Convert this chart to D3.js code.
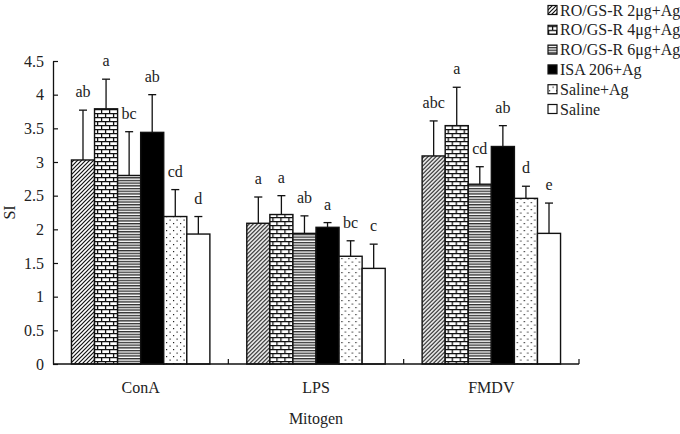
<!DOCTYPE html>
<html>
<head>
<meta charset="utf-8">
<script src="https://cdn.jsdelivr.net/npm/d3@7"></script>
<style>
  body { margin: 0; background: #fff; }
  svg text { font-family: "Liberation Serif", "Times New Roman", serif; fill: #222; }
</style>
</head>
<body>
<svg id="chart" width="680" height="434"></svg>
<script>
// categories and series
const mitogens = ['ConA', 'LPS', 'FMDV'];
const groups = ['RO/GS-R 2μg+Ag', 'RO/GS-R 4μg+Ag', 'RO/GS-R 6μg+Ag', 'ISA 206+Ag', 'Saline+Ag', 'Saline'];
// mean SI per group, one array per mitogen
const conA = [3.03, 3.79, 2.80, 3.44, 2.19, 1.93];
const lps = [2.09, 2.22, 1.94, 2.03, 1.60, 1.42];
const fmdv = [3.09, 3.54, 2.67, 3.23, 2.46, 1.94];
// upper end of the error bar
const conAErr = [3.77, 4.23, 3.45, 4.00, 2.59, 2.19];
const lpsErr = [2.48, 2.50, 2.20, 2.10, 1.83, 1.78];
const fmdvErr = [3.61, 4.11, 2.93, 3.54, 2.64, 2.39];
// significance letters
const conALetters = ['ab', 'a', 'bc', 'ab', 'cd', 'd'];
const lpsLetters = ['a', 'a', 'ab', 'a', 'bc', 'c'];
const fmdvLetters = ['abc', 'a', 'cd', 'ab', 'd', 'e'];
const yTicks = [0, 0.5, 1, 1.5, 2, 2.5, 3, 3.5, 4, 4.5];

const values = [conA, lps, fmdv];
const errs = [conAErr, lpsErr, fmdvErr];
const letters = [conALetters, lpsLetters, fmdvLetters];

const fills = ['url(#diag)', 'url(#brick)', 'url(#hstripe)', '#000', 'url(#dots)', '#fff'];

const margin = { top: 61, right: 101, bottom: 70, left: 53 };
const width = 680 - margin.left - margin.right,
	height = 434 - margin.top - margin.bottom;

const svg = d3.select('#chart');

// fill patterns
const defs = svg.append('defs');
const pDiag = defs.append('pattern').attr('id', 'diag')
	.attr('patternUnits', 'userSpaceOnUse').attr('width', 4).attr('height', 4);
pDiag.append('rect').attr('width', 4).attr('height', 4).attr('fill', '#fff');
pDiag.append('path').attr('d', 'M-1,1 l2,-2 M0,4 l4,-4 M3,5 l2,-2')
	.attr('stroke', '#111').attr('stroke-width', 1.2);

const pBrick = defs.append('pattern').attr('id', 'brick')
	.attr('patternUnits', 'userSpaceOnUse').attr('width', 8).attr('height', 8);
pBrick.append('rect').attr('width', 8).attr('height', 8).attr('fill', '#fff');
pBrick.append('path').attr('d', 'M0,0.6 H8 M0,4.6 H8 M0.6,0 V4.6 M4.6,4.6 V8')
	.attr('stroke', '#111').attr('stroke-width', 1.3);

const pStripe = defs.append('pattern').attr('id', 'hstripe')
	.attr('patternUnits', 'userSpaceOnUse').attr('width', 4).attr('height', 2.7);
pStripe.append('rect').attr('width', 4).attr('height', 2.7).attr('fill', '#fff');
pStripe.append('path').attr('d', 'M0,0.7 H4')
	.attr('stroke', '#222').attr('stroke-width', 1.3);

const pDots = defs.append('pattern').attr('id', 'dots')
	.attr('patternUnits', 'userSpaceOnUse').attr('width', 7).attr('height', 7);
pDots.append('rect').attr('width', 7).attr('height', 7).attr('fill', '#fff');
pDots.append('rect').attr('x', 1).attr('y', 1).attr('width', 1.2).attr('height', 1.2).attr('fill', '#222');
pDots.append('rect').attr('x', 4.5).attr('y', 4.5).attr('width', 1.2).attr('height', 1.2).attr('fill', '#222');

const g = svg.append('g')
	.attr('transform', 'translate(' + margin.left + ',' + margin.top + ')');

const x0 = d3.scaleBand().domain(mitogens).range([0, width]).paddingInner(0).paddingOuter(0);
const x1 = d3.scaleBand().domain(groups).range([0, x0.bandwidth()]).paddingInner(0).paddingOuter(0.8);
const y = d3.scaleLinear().domain([0, 4.5]).range([height, 0]);

// bars
mitogens.forEach((m, i) => {
	const grp = g.append('g').attr('transform', 'translate(' + x0(m) + ',0)');
	groups.forEach((s, j) => {
		const bx = x1(s), bw = x1.bandwidth();
		const cx = bx + bw / 2;
		// error bar first so the bar covers its lower part
		grp.append('line')
			.attr('x1', cx).attr('x2', cx)
			.attr('y1', y(values[i][j])).attr('y2', y(errs[i][j]))
			.attr('stroke', '#111').attr('stroke-width', 1.3);
		grp.append('line')
			.attr('x1', cx - 4).attr('x2', cx + 4)
			.attr('y1', y(errs[i][j])).attr('y2', y(errs[i][j]))
			.attr('stroke', '#111').attr('stroke-width', 1.3);
		grp.append('rect')
			.attr('x', bx).attr('y', y(values[i][j]))
			.attr('width', bw).attr('height', height - y(values[i][j]))
			.attr('fill', fills[j])
			.attr('stroke', '#111').attr('stroke-width', 1.4);
		grp.append('text')
			.attr('x', cx).attr('y', y(errs[i][j]) - 13)
			.attr('text-anchor', 'middle')
			.style('font-size', '16px')
			.text(letters[i][j]);
	});
});

// y axis
const yAxis = d3.axisLeft(y).tickValues(yTicks).tickSizeInner(-5).tickSizeOuter(0)
	.tickPadding(9).tickFormat(d3.format('~g'));
const ya = g.append('g').call(yAxis);
ya.select('.domain').attr('stroke', '#111').attr('stroke-width', 1.3);
ya.selectAll('.tick line').attr('stroke', '#111').attr('stroke-width', 1.2);
ya.selectAll('.tick text').style('font-size', '16px').style('font-family', '"Liberation Serif", serif').attr('fill', '#222');

// x axis
g.append('line').attr('x1', 0).attr('x2', width).attr('y1', height).attr('y2', height)
	.attr('stroke', '#111').attr('stroke-width', 1.3);
const bounds = mitogens.map(m => x0(m)).concat([width]);
g.selectAll('.xtick').data(bounds.slice(1)).enter().append('line')
	.attr('x1', d => d).attr('x2', d => d)
	.attr('y1', height).attr('y2', height - 5)
	.attr('stroke', '#111').attr('stroke-width', 1.2);
g.selectAll('.xlab').data(mitogens).enter().append('text')
	.attr('x', d => x0(d) + x0.bandwidth() / 2)
	.attr('y', height + 29)
	.attr('text-anchor', 'middle')
	.style('font-size', '16px')
	.text(d => d);

// axis titles
g.append('text').attr('x', width / 2).attr('y', height + 60)
	.attr('text-anchor', 'middle').style('font-size', '16px').text('Mitogen');
g.append('text')
	.attr('transform', 'translate(' + (-38) + ',' + (height / 2) + ') rotate(-90)')
	.attr('text-anchor', 'middle').style('font-size', '16px').text('SI');

// legend
const legend = svg.append('g').attr('transform', 'translate(548,10)');
groups.forEach((s, j) => {
	const row = legend.append('g').attr('transform', 'translate(0,' + (j * 19.8) + ')');
	row.append('rect').attr('x', 0).attr('y', -4.5).attr('width', 9).attr('height', 9)
		.attr('fill', fills[j]).attr('stroke', '#111').attr('stroke-width', 1.2);
	row.append('text').attr('x', 12).attr('y', 5.5)
		.style('font-size', '16px').text(s);
});
</script>
</body>
</html>
